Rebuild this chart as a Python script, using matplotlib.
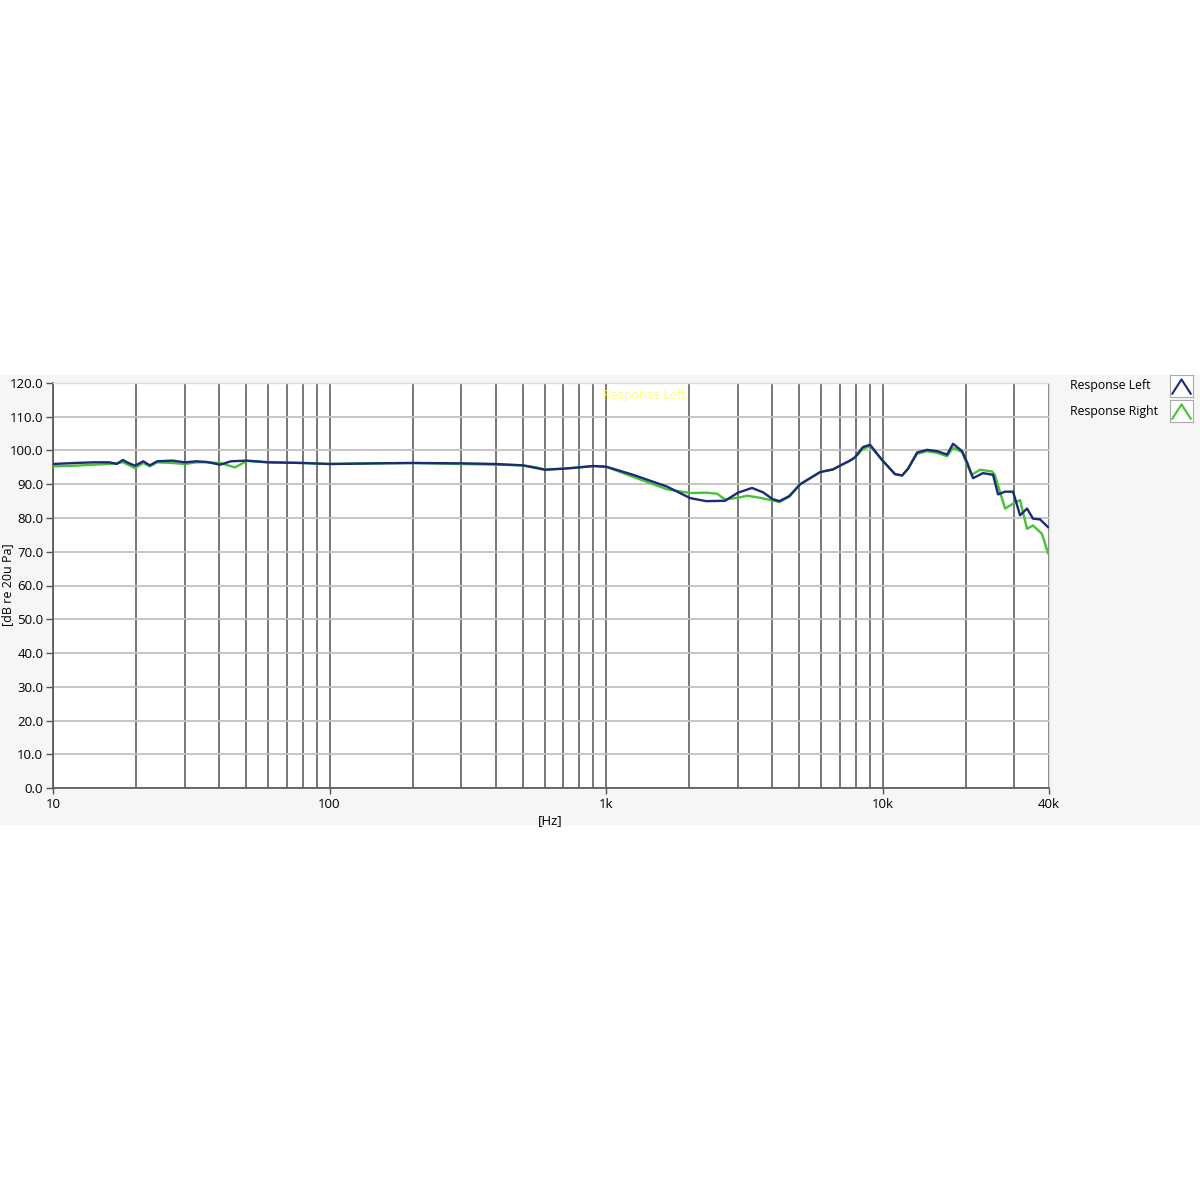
import matplotlib
matplotlib.use("Agg")
import matplotlib.pyplot as plt
from matplotlib.patches import Rectangle
from matplotlib.ticker import FixedLocator, FixedFormatter, NullFormatter

# ---- data ----
freq_left = [10, 12, 14, 16, 17, 17.9, 18.5, 19.8, 21.2, 22.4, 23.8, 27, 30, 33, 36, 40.2, 44, 50.3,
             60, 70, 80, 100, 150, 200, 300, 400, 500, 560, 600, 700, 800, 900, 1000, 1253, 1663,
             2014, 2300, 2693, 3000, 3373, 3700, 4002, 4238, 4600, 5037, 5946, 6622, 7015, 7627,
             7946, 8493, 9013, 9961, 11090, 11770, 12370, 13330, 14490, 15750, 17120, 17990, 19400,
             20220, 21250, 23080, 25100, 26170, 27740, 29650, 31430, 33310, 35010, 37120, 39680]
spl_left = [96.0, 96.3, 96.5, 96.5, 96.0, 97.2, 96.5, 95.5, 96.8, 95.6, 96.8, 97.0, 96.5, 96.8, 96.6, 95.8, 96.8, 97.0,
            96.5, 96.4, 96.3, 96.0, 96.2, 96.3, 96.2, 96.0, 95.6, 94.8, 94.3, 94.6, 95.0, 95.4, 95.2, 92.8, 89.3,
            85.9, 85.0, 85.1, 87.5, 88.9, 87.6, 85.6, 85.0, 86.5, 90.0, 93.6, 94.4, 95.5, 97.0,
            98.0, 101.0, 101.7, 97.2, 93.0, 92.6, 94.6, 99.4, 100.2, 99.8, 98.8, 102.0, 99.8,
            96.5, 91.8, 93.3, 92.8, 87.0, 87.8, 87.8, 80.8, 82.8, 79.8, 79.6, 77.3]

freq_right = [10, 12, 14, 16, 17.9, 19.8, 21.2, 22.4, 23.8, 27, 30, 33, 36, 40.2, 45.5, 50.3,
              60, 70, 80, 100, 150, 200, 300, 400, 500, 560, 600, 700, 800, 900, 1000, 1253, 1663,
              2014, 2300, 2522, 2693, 3000, 3240, 3600, 4002, 4238, 4600, 5037, 5946, 6622, 7015, 7627,
              7946, 8493, 9013, 9961, 11090, 11770, 12370, 13330, 14490, 15750, 17120, 17990, 19400,
              20220, 21000, 22540, 24870, 25470, 27740, 30150, 31430, 33310, 35010, 37730, 39680]
spl_right = [95.3, 95.5, 95.8, 96.0, 96.5, 94.8, 96.3, 95.3, 96.5, 96.3, 96.0, 96.5, 96.5, 96.3, 95.0, 96.9,
             96.5, 96.4, 96.3, 96.0, 96.2, 96.3, 96.0, 95.8, 95.6, 95.0, 94.4, 94.6, 95.0, 95.4, 95.2, 92.2, 88.5,
             87.4, 87.5, 87.2, 85.5, 86.0, 86.6, 86.0, 85.2, 84.7, 86.3, 90.0, 93.6, 94.4, 95.5, 97.0,
             97.8, 100.5, 101.3, 97.2, 93.0, 92.6, 94.6, 99.0, 99.8, 99.3, 98.3, 100.8, 99.5,
             95.8, 92.8, 94.3, 93.8, 92.8, 82.8, 84.6, 85.3, 76.8, 77.8, 75.3, 69.6]

y_ticks = [0, 10, 20, 30, 40, 50, 60, 70, 80, 90, 100, 110, 120]
x_major = [10, 100, 1000, 10000, 40000]
x_major_labels = ["10", "100", "1k", "10k", "40k"]
series_names = ["Response Left", "Response Right"]
colors = ["#1c2a78", "#46c236"]

plt.rcParams['font.family'] = ['Open Sans', 'DejaVu Sans']

fig = plt.figure(figsize=(12, 12), dpi=100)
fig.patch.set_facecolor("white")
# light gray panel behind chart
fig.add_artist(Rectangle((0, (1200 - 825) / 1200), 1, 450 / 1200, transform=fig.transFigure,
                         facecolor="#f6f6f6", edgecolor="none", zorder=0))

ax = fig.add_axes([53 / 1200, (1200 - 788) / 1200, 996 / 1200, 405 / 1200])
ax.set_facecolor("white")
ax.set_xscale("log")
ax.set_xlim(10, 40000)
ax.set_ylim(0, 120)

ax.plot(freq_right, spl_right, color=colors[1], lw=1.7, zorder=3)
ax.plot(freq_left, spl_left, color=colors[0], lw=1.7, zorder=4)

ax.set_yticks(y_ticks)
ax.set_yticklabels([f"{v:.1f}" for v in y_ticks])
ax.xaxis.set_major_locator(FixedLocator(x_major))
ax.xaxis.set_major_formatter(FixedFormatter(x_major_labels))
minor = [m * d for d in (10, 100, 1000, 10000) for m in range(2, 10) if m * d < 40000]
ax.xaxis.set_minor_locator(FixedLocator(minor))
ax.xaxis.set_minor_formatter(NullFormatter())

ax.grid(axis="y", which="major", color="#c4c0c0", lw=1.3)
ax.grid(axis="x", which="both", color="#606060", lw=1.2)
ax.tick_params(axis="y", direction="out", length=5, width=1, color="#555555", labelsize=9.5, pad=2)
ax.tick_params(axis="x", which="major", direction="out", length=4, width=1, color="#555555",
               labelsize=9.5, pad=3)
ax.tick_params(axis="x", which="minor", length=0)
for s in ["left", "bottom"]:
    ax.spines[s].set_color("#555555")
    ax.spines[s].set_linewidth(1.2)
for s in ["top", "right"]:
    ax.spines[s].set_color("#dddddd")
    ax.spines[s].set_linewidth(1.0)
ax.set_axisbelow(True)

ax.text(0.552, 0.970, "Response Left", transform=ax.transAxes, color="#ffff77",
        fontsize=9, ha="left", va="center")

fig.text(550 / 1200, 1 - 821 / 1200, "[Hz]", ha="center", va="center", fontsize=9.5)
fig.text(8 / 1200, 1 - 585 / 1200, "[dB re 20u Pa]", ha="center", va="center",
         rotation=90, fontsize=9)

# legend
for i, (name, c) in enumerate(zip(series_names, colors)):
    yc = 1 - (386 + 25 * i) / 1200
    fig.text(1070 / 1200, yc, name, ha="left", va="center", fontsize=8.8)
    iax = fig.add_axes([1170 / 1200, yc - 11 / 1200, 23 / 1200, 22 / 1200])
    iax.set_xlim(0, 1)
    iax.set_ylim(0, 1)
    iax.plot([0.1, 0.5, 0.9], [0.15, 0.8, 0.15], color=c, lw=1.5)
    iax.set_xticks([])
    iax.set_yticks([])
    iax.set_facecolor("white")
    for s in iax.spines.values():
        s.set_color("#aaaaaa")
        s.set_linewidth(0.8)

fig.savefig("out.png", dpi=100)
